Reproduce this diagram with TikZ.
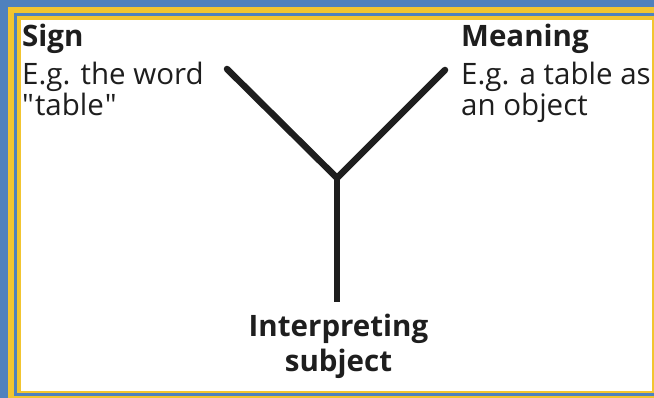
\documentclass[tikz,border=0pt]{standalone}
\usepackage{fontspec}
\setmainfont[Ligatures=TeXOff]{Open Sans}
\definecolor{frameblue}{RGB}{79,129,189}
\definecolor{frameyellow}{RGB}{242,197,48}
\definecolor{ink}{RGB}{30,30,30}
\tikzset{
  txt/.style={anchor=base west, inner sep=0pt, text=ink, font=\fontsize{29.5}{33}\selectfont},
  btxt/.style={txt, font=\fontsize{29.5}{33}\selectfont\bfseries},
  ctxt/.style={btxt, anchor=base},
  arm/.style={line width=6.5pt, draw=ink, line cap=round, line join=miter}
}
\begin{document}
\begin{tikzpicture}[x=1pt,y=-1pt]
\useasboundingbox (0,0) rectangle (654,398);
\fill[frameblue] (0,0) rectangle (654,398);
\fill[frameyellow] (8,7) rectangle (660,404);
\fill[frameblue] (14,13) rectangle (657,396);
\fill[frameyellow] (16.5,16) rectangle (654,393);
\fill[white] (21,20) rectangle (651.5,391);
% texts
\node[btxt] (sign) at (22,47) {Sign};
\node[txt] (sign1) at (22,85) {E.g. the word};
\node[txt] (sign2) at (22,116) {"\kern1pt table\kern1pt "};
\node[btxt] (mean) at (461,47) {Meaning};
\node[txt] (mean1) at (461,85) {E.g. a table as};
\node[txt] (mean2) at (461,116) {an object};
\node[ctxt] (subj1) at (338.5,337) {Interpreting};
\node[ctxt] (subj2) at (338.5,371) {subject};
% connectors
\coordinate (s) at (227,69);
\coordinate (m) at (445,70);
\coordinate (j) at (337,178);
\coordinate (b) at (337,302);
\draw[arm] (s) -- (j) -- (m);
\draw[arm, line cap=butt] (j) -- (b);
\end{tikzpicture}
\end{document}
